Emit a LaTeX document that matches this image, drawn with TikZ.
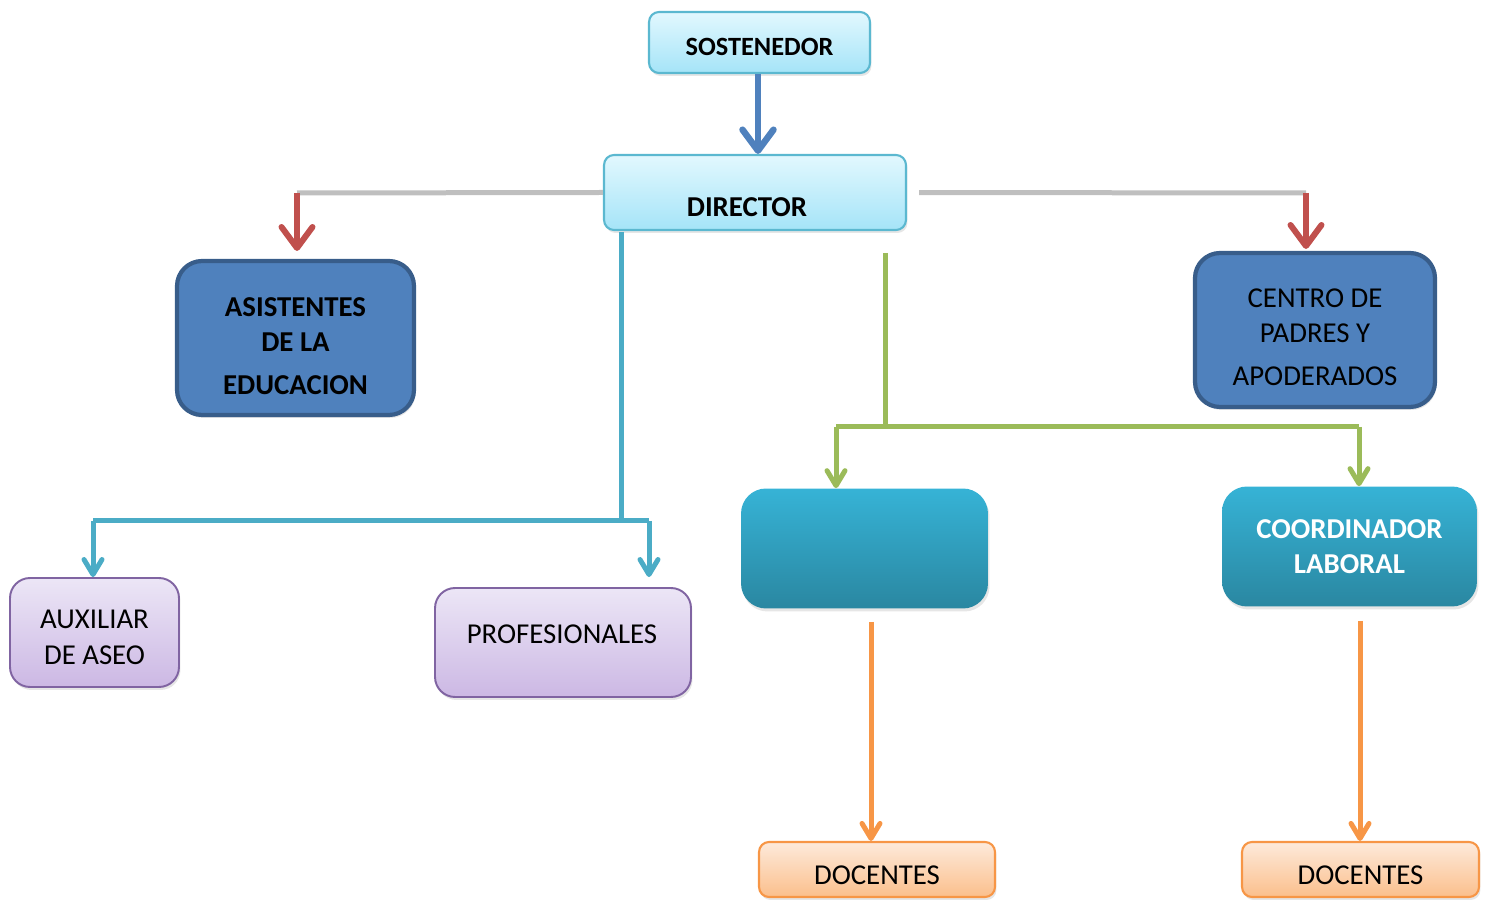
\documentclass[tikz,border=0pt]{standalone}
\usepackage{fontspec}
\setmainfont{Carlito}
\usetikzlibrary{arrows.meta,shadows}

\definecolor{cyantop}{HTML}{E2F8FE}
\definecolor{cyanbot}{HTML}{A5E4F8}
\definecolor{cyanline}{HTML}{5BB8D0}
\definecolor{navyfill}{HTML}{4F81BD}
\definecolor{navyline}{HTML}{385D8A}
\definecolor{lilatop}{HTML}{ECE6F6}
\definecolor{lilabot}{HTML}{CCB8E4}
\definecolor{lilaline}{HTML}{8064A2}
\definecolor{tealtop}{HTML}{36B3D6}
\definecolor{tealbot}{HTML}{2A87A1}
\definecolor{tealline}{HTML}{4BACC6}
\definecolor{orangetop}{HTML}{FDEADB}
\definecolor{orangebot}{HTML}{FBBF8C}
\definecolor{orangeline}{HTML}{F79646}
\definecolor{redline}{HTML}{C0504D}
\definecolor{greenline}{HTML}{9BBB59}
\definecolor{grayline}{HTML}{BFBFBF}

\begin{document}
\begin{tikzpicture}[x=0.02cm,y=-0.02cm,
    box/.style={align=center, inner sep=0pt, font=\fontsize{16.4}{20}\selectfont,
      drop shadow={opacity=0.2, shadow xshift=0.03cm, shadow yshift=-0.06cm}},
    cyanbox/.style={box, rounded corners=0.2cm, draw=cyanline, line width=1.2pt,
      top color=cyantop, bottom color=cyanbot},
    navybox/.style={box, rounded corners=0.5cm, draw=navyline, line width=2.4pt,
      fill=navyfill, minimum width=4.74cm, minimum height=3.08cm},
    lilabox/.style={box, rounded corners=0.4cm, draw=lilaline, line width=1.1pt,
      top color=lilatop, bottom color=lilabot, minimum height=2.18cm},
    tealbox/.style={box, rounded corners=0.5cm, top color=tealtop, bottom color=tealbot,
      minimum height=2.4cm},
    orangebox/.style={box, rounded corners=0.2cm, draw=orangeline, line width=1.2pt,
      top color=orangetop, bottom color=orangebot, minimum width=4.74cm, minimum height=1.1cm},
    bigtip/.style={-{Straight Barb[length=0.42cm,width=0.62cm,round]}, line width=0.13cm},
    smalltip/.style={-{Straight Barb[length=0.3cm,width=0.36cm,round]}, line width=0.1cm},
  ]
  \useasboundingbox (0,0) rectangle (1491,901);

  % top
  \node[cyanbox, minimum width=4.42cm, minimum height=1.22cm,
        font=\fontsize{15}{18}\selectfont\bfseries] (sost) at (759.5,42.5) {\rule{0pt}{14.5pt}SOSTENEDOR};
  \node[cyanbox, minimum width=6.04cm, minimum height=1.5cm] (dir) at (755,192.5) {};
  \node[font=\fontsize{16.4}{20}\selectfont\bfseries] (dirtext) at (747,207) {DIRECTOR};
  \draw[bigtip, navyfill] ([xshift=-0.03cm]sost.south) -- ([xshift=-0.03cm]sost.south |- dir.north);

  % side boxes
  \node[navybox, font=\fontsize{16.4}{20}\selectfont\bfseries] (asis) at (295.5,338)
    {\rule{0pt}{20pt}ASISTENTES\\DE LA\\[4.5pt]EDUCACION};
  \node[navybox, minimum width=4.8cm] (centro) at (1315,330)
    {\rule{0pt}{19pt}CENTRO DE\\PADRES Y\\[4.5pt]APODERADOS};

  \coordinate (lbend) at (297,193);
  \coordinate (rbend) at (1306,193);
  \draw[grayline, line width=0.1cm] (dir.west) -- (lbend);
  \draw[grayline, line width=0.1cm, shorten <=0.24cm] (dir.east) -- (rbend);
  \draw[bigtip, redline, line width=0.12cm] (lbend) -- ++(0,58);
  \draw[bigtip, redline, line width=0.12cm] (rbend) -- ++(0,56);

  % left branch
  \node[lilabox, minimum width=3.38cm] (aux) at (94.5,632.5) {\rule{0pt}{16pt}AUXILIAR\\DE ASEO};
  \node[lilabox, minimum width=5.12cm] (prof) at (563,642.5) {};
  \node[font=\fontsize{16.4}{20}\selectfont] (proftext) at (562,634) {PROFESIONALES};

  \coordinate (ttop) at (621,232);
  \coordinate (tmid) at (621,521);
  \coordinate (tl) at (93,521);
  \coordinate (tr) at (649,521);
  \draw[tealline, line width=0.1cm] (ttop) -- (tmid) (tl) -- (tr);
  \draw[smalltip, tealline] (tl) -- (tl |- aux.north);
  \draw[smalltip, tealline] (tr) -- ([yshift=0.2cm]tr |- prof.north);

  % right branch
  \node[tealbox, minimum width=4.94cm] (blank) at (864.5,548.5) {};
  \node[tealbox, minimum width=5.1cm, text=white, font=\fontsize{16.4}{20}\selectfont\bfseries]
    (coord) at (1349.5,546.5) {COORDINADOR\\LABORAL};

  \coordinate (gtop) at (885,253);
  \coordinate (gmid) at (885,427);
  \coordinate (gl) at (836,427);
  \coordinate (gr) at (1359,427);
  \draw[greenline, line width=0.1cm] (gtop) -- (gmid) (gl) -- (gr);
  \draw[smalltip, greenline] (gl) -- (gl |- blank.north);
  \draw[smalltip, greenline] (gr) -- (gr |- coord.north);

  % docentes
  \node[orangebox, minimum width=4.72cm] (docA) at (877,869.5) {\rule{0pt}{17.5pt}DOCENTES};
  \node[orangebox] (docB) at (1360.5,869.5) {\rule{0pt}{17.5pt}DOCENTES};

  \coordinate (oa) at (871,622);
  \coordinate (ob) at (1360,621);
  \draw[smalltip, orangeline] (oa) -- (oa |- docA.north);
  \draw[smalltip, orangeline] (ob) -- (ob |- docB.north);
\end{tikzpicture}
\end{document}
